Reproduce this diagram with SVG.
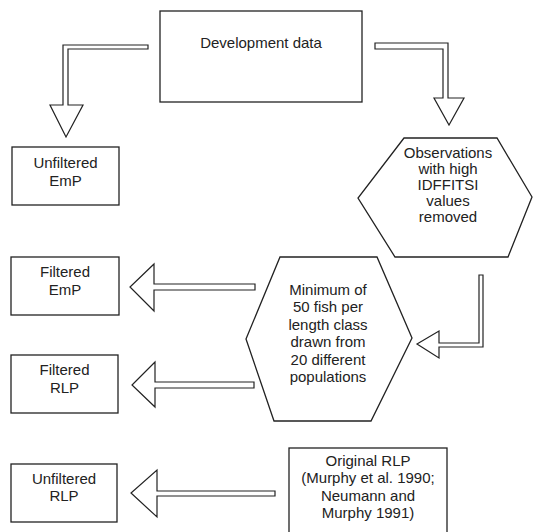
<svg xmlns="http://www.w3.org/2000/svg" width="533" height="532" viewBox="0 0 533 532">
<style>
.box{fill:#fff;stroke:#222;stroke-width:1.3}
.arr{fill:#fff;stroke:#222;stroke-width:1.2;stroke-linejoin:miter}
text{font-family:"Liberation Sans",Arial,sans-serif;font-size:15px;fill:#222;text-anchor:middle}
</style>
<rect width="533" height="532" fill="#fff"/>
<g id="connectors">
<polygon class="arr" points="148,45 63,45 63,105 50,105 66,137 83,105 68,105 68,49 148,49"/>
<polygon class="arr" points="375,43 448,43 448,98 464,98 449,125 434,98 443,98 443,49 375,49"/>
<polygon class="arr" points="479,275 483,275 483,347 439,347 439,358 417,344 439,331 439,343 479,343"/>
<polygon class="arr" points="255,284 154,284 154,264 130,287 154,311 154,290 255,290"/>
<polygon class="arr" points="254,382 155,382 155,362 132,385 155,407 155,388 254,388"/>
<polygon class="arr" points="275,491 157,491 157,470 131,493 157,517 157,496 275,496"/>
</g>
<g id="dev">
<rect class="box" x="160" y="11" width="202" height="91"/>
<text x="261" y="48">Development data</text>
</g>
<g id="unfEmP">
<rect class="box" x="12" y="147" width="107" height="58"/>
<text x="65.5" y="168">Unfiltered</text>
<text x="65.5" y="186">EmP</text>
</g>
<g id="obs">
<polygon class="box" points="404,138 497,138 532,197 508,257 395,257 358,198"/>
<text x="448" y="158">Observations</text>
<text x="448" y="174">with high</text>
<text x="448" y="190">IDFFITSI</text>
<text x="448" y="206">values</text>
<text x="448" y="222">removed</text>
</g>
<g id="fEmP">
<rect class="box" x="11" y="257" width="108" height="58"/>
<text x="65" y="277">Filtered</text>
<text x="65" y="295">EmP</text>
</g>
<g id="min">
<polygon class="box" points="280,257 377,257 412,338 371,421 274,421 246,339"/>
<text x="328" y="295">Minimum of</text>
<text x="328" y="312.4">50 fish per</text>
<text x="328" y="329.8">length class</text>
<text x="328" y="347.2">drawn from</text>
<text x="328" y="364.6">20 different</text>
<text x="328" y="382">populations</text>
</g>
<g id="fRLP">
<rect class="box" x="11" y="355" width="107" height="58"/>
<text x="64.5" y="375">Filtered</text>
<text x="64.5" y="393">RLP</text>
</g>
<g id="unfRLP">
<rect class="box" x="11" y="464" width="106" height="58"/>
<text x="64" y="484">Unfiltered</text>
<text x="64" y="501">RLP</text>
</g>
<g id="orig">
<rect class="box" x="289" y="448" width="158" height="90"/>
<text x="368" y="466">Original RLP</text>
<text x="368" y="483">(Murphy et al. 1990;</text>
<text x="368" y="501">Neumann and</text>
<text x="368" y="518">Murphy 1991)</text>
</g>
</svg>
